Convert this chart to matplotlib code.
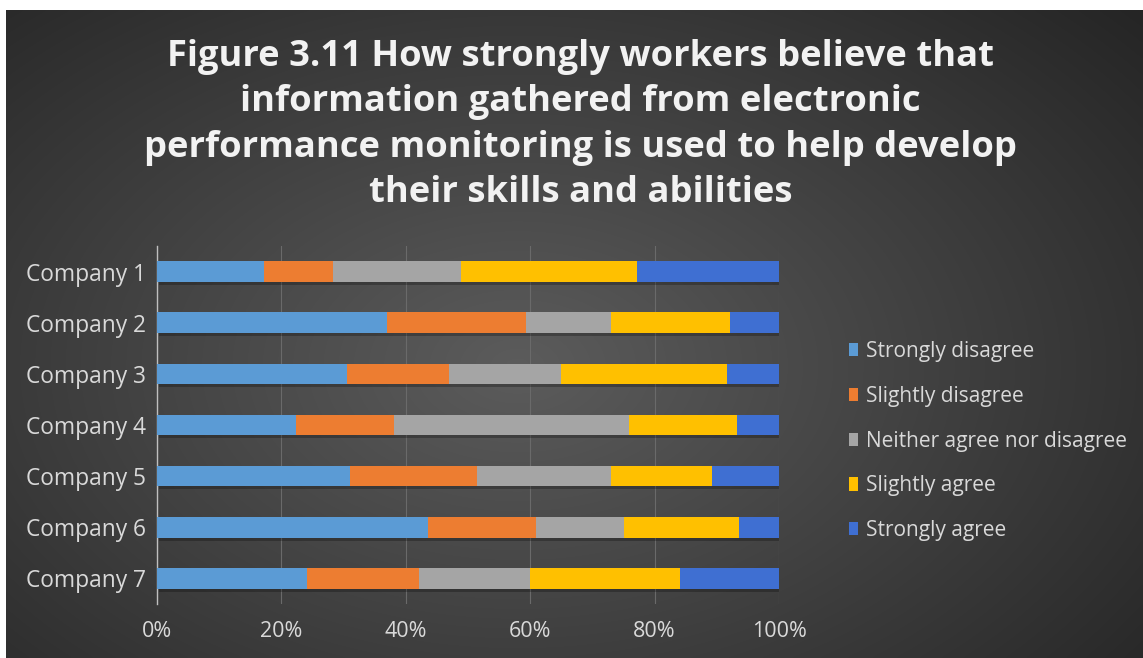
import numpy as np
import matplotlib.pyplot as plt

plt.rcParams['font.family'] = ['Open Sans', 'DejaVu Sans']

# data (share of workers, %)
companies = ['Company 1', 'Company 2', 'Company 3', 'Company 4',
             'Company 5', 'Company 6', 'Company 7']
strongly_disagree = [17.2, 36.9, 30.5, 22.4, 31.0, 43.5, 24.1]
slightly_disagree = [11.1, 22.4, 16.4, 15.7, 20.5, 17.5, 18.1]
neither = [20.6, 13.7, 18.1, 37.8, 21.5, 14.1, 17.8]
slightly_agree = [28.3, 19.2, 26.6, 17.3, 16.3, 18.5, 24.1]
strongly_agree = [22.8, 7.8, 8.4, 6.8, 10.7, 6.4, 15.9]

series_names = ['Strongly disagree', 'Slightly disagree',
                'Neither agree nor disagree', 'Slightly agree', 'Strongly agree']
series = [strongly_disagree, slightly_disagree, neither, slightly_agree, strongly_agree]
colors = ['#5B9BD5', '#ED7D31', '#A5A5A5', '#FFC000', '#3F6FD2']
xticks = [0, 20, 40, 60, 80, 100]
title_lines = ['Figure 3.11 How strongly workers believe that',
               'information gathered from electronic',
               'performance monitoring is used to help develop',
               'their skills and abilities']

W, H = 1143, 658
fig = plt.figure(figsize=(W / 100, H / 100), dpi=100)
fig.patch.set_facecolor('white')

# dark radial background
bg = fig.add_axes([6 / W, 0, 1 - 6 / W, 1 - 10 / H])
bg.set_axis_off()
yy, xx = np.mgrid[0:1:300j, 0:1:500j]
r = np.sqrt(((xx - 0.45) / 0.75) ** 2 + ((yy - 0.55) / 0.85) ** 2)
shade = np.clip(0.36 - 0.22 * r, 0.14, 0.36)
bg.imshow(np.dstack([shade] * 3), aspect='auto', extent=[0, 1, 0, 1],
          interpolation='bicubic')
bg.set_xlim(0, 1)
bg.set_ylim(0, 1)

# title, one line at a time for the wide line gap
for i, line in enumerate(title_lines):
    fig.text(0.508, 1 - (57 + 45.3 * i) / H, line, ha='center', va='center',
             color='#f2f2f2', fontsize=26.2, fontweight='bold')

ax = fig.add_axes([157 / W, 1 - 604 / H, (779 - 157) / W, (604 - 246) / H])
ax.patch.set_alpha(0)
y = np.arange(len(companies))
left = np.zeros(len(companies))
handles = []
for name, vals, c in zip(series_names, series, colors):
    vals = np.array(vals)
    # soft shadow under bars
    ax.barh(y + 0.06, vals, left=left + 0.4, height=0.4, color='black',
            alpha=0.25, zorder=2)
    b = ax.barh(y, vals, left=left, height=0.4, color=c, label=name, zorder=3)
    handles.append(b)
    left += vals

ax.set_xlim(0, 100)
ax.set_ylim(len(companies) - 0.5, -0.5)
ax.set_yticks(y)
ax.set_yticklabels(companies, fontsize=16.4, color='#d9d9d9')
ax.set_xticks(xticks)
ax.set_xticklabels([f'{t}%' for t in xticks], fontsize=15.5, color='#d9d9d9')
ax.tick_params(length=0, pad=8)
ax.tick_params(axis='x', pad=12)
ax.grid(axis='x', color='#6a6a6a', linewidth=0.8, zorder=0)
for s in ['top', 'right', 'bottom']:
    ax.spines[s].set_visible(False)
ax.spines['left'].set_color('#bfbfbf')
ax.spines['left'].set_linewidth(1.0)

leg = fig.legend(handles=handles, labels=series_names, loc='center left',
                 bbox_to_anchor=(849 / W, 1 - 441 / H), frameon=False,
                 fontsize=15, labelcolor='#d9d9d9', handlelength=0.45,
                 handleheight=0.6, handletextpad=0.35, labelspacing=1.14,
                 borderaxespad=0, borderpad=0)

fig.savefig('out.png', dpi=100, facecolor=fig.get_facecolor())
